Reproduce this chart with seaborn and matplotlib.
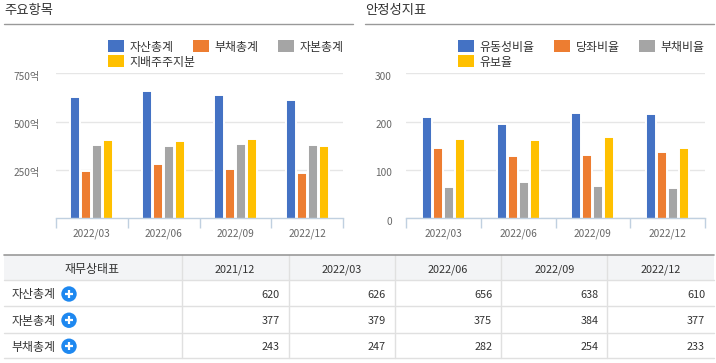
import pandas as pd
import matplotlib
matplotlib.use('Agg')
import matplotlib.pyplot as plt
from matplotlib.patches import Rectangle, Circle
from matplotlib.transforms import ScaledTranslation
import seaborn as sns

# ---- data ----
quarters = ['2022/03', '2022/06', '2022/09', '2022/12']

main_names = ['자산총계', '부채총계', '자본총계', '지배주주지분']
assets = [626, 656, 638, 610]
debts = [247, 282, 254, 233]
equity = [379, 375, 384, 377]
owners = [406, 401, 411, 375]

stab_names = ['유동성비율', '당좌비율', '부채비율', '유보율']
current_ratio = [209, 195, 218, 216]
quick_ratio = [145, 129, 131, 137]
debt_ratio = [65, 75, 67, 63]
reserve_ratio = [164, 162, 168, 145]

colors = ['#4472c4', '#ed7d31', '#a5a5a5', '#ffc000']

main_ticks = [250, 500, 750]
main_ticklabels = ['250억', '500억', '750억']
stab_ticks = [0, 100, 200, 300]
stab_ticklabels = ['0', '100', '200', '300']

table_title = '재무상태표'
table_cols = ['2021/12', '2022/03', '2022/06', '2022/09', '2022/12']
table_rows = ['자산총계', '자본총계', '부채총계']
table_assets = [620, 626, 656, 638, 610]
table_equity = [377, 379, 375, 384, 377]
table_debts = [243, 247, 282, 254, 233]

W, H = 716, 363
TXT = '#333333'

sns.set_theme(style='white')
plt.rcParams['font.family'] = ['Noto Sans CJK KR', 'DejaVu Sans']

fig = plt.figure(figsize=(W / 100, H / 100), dpi=100)


def make_axes(x0, x1, y0, y1):
    # pixel box to figure fraction
    return fig.add_axes([x0 / W, 1 - y1 / H, (x1 - x0) / W, (y1 - y0) / H])


def draw_bars(ax, names, series, ymax, ticks, ticklabels, width, label_pad):
    rows = []
    for name, vals in zip(names, series):
        for q, v in zip(quarters, vals):
            rows.append({'quarter': q, 'item': name, 'value': v})
    df = pd.DataFrame(rows)
    # white border on the bars breaks the gridlines like the original
    sns.barplot(data=df, x='quarter', y='value', hue='item', order=quarters,
                hue_order=names, palette=colors, saturation=1, width=width,
                gap=0.09, legend=False, ax=ax, zorder=3,
                edgecolor='white', linewidth=1.4)
    # push the bottom border below the axis so bars touch the baseline
    drop = ymax / 50
    for p in ax.patches:
        p.set_height(p.get_height() + drop)
        p.set_y(-drop)
    ax.set_xlim(-0.5, len(quarters) - 0.5)
    ax.set_ylim(0, ymax)
    ax.set_xlabel('')
    ax.set_ylabel('')
    ax.set_yticks(ticks)
    ax.set_yticklabels(ticklabels, fontsize=7.3, color='#666666')
    ax.yaxis.grid(True, color='#e6e6e6', lw=1)
    ax.set_axisbelow(True)
    ax.tick_params(axis='x', which='major', length=0, pad=7.5, labelsize=7.3, labelcolor='#666666')
    ax.tick_params(axis='y', length=0, pad=label_pad)
    ax.set_xticks([i - 0.5 for i in range(len(quarters) + 1)], minor=True)
    ax.tick_params(axis='x', which='minor', bottom=True, length=7, width=1, color='#c0d0e0')
    for s in ['top', 'left', 'right']:
        ax.spines[s].set_visible(False)
    ax.spines['bottom'].set_color('#c0d0e0')
    ax.spines['bottom'].set_linewidth(1)
    ax.spines['bottom'].set_zorder(5)
    # labels sit a bit under their gridline
    shift = ScaledTranslation(0, -2.5 / 100, fig.dpi_scale_trans)
    for lab in ax.get_yticklabels():
        lab.set_transform(lab.get_transform() + shift)


ax1 = make_axes(55.7, 343.3, 73.3, 218.3)
draw_bars(ax1, main_names, [assets, debts, equity, owners], 750, main_ticks, main_ticklabels, 0.612, 11.5)

ax2 = make_axes(406.3, 704.7, 73.3, 218.3)
draw_bars(ax2, stab_names, [current_ratio, quick_ratio, debt_ratio, reserve_ratio], 300, stab_ticks, stab_ticklabels, 0.59, 10.3)

# overlay in pixel coordinates for headings, legends and the table
ov = fig.add_axes([0, 0, 1, 1], zorder=5)
ov.set_xlim(0, W)
ov.set_ylim(H, 0)
ov.axis('off')

ov.text(4, 10.3, '주요항목', fontsize=9.6, color=TXT, va='center')
ov.text(365, 10.3, '안정성지표', fontsize=9.6, color=TXT, va='center')
ov.plot([4, 352.7], [23.5, 23.5], color='#999999', lw=1)
ov.plot([365, 714], [23.5, 23.5], color='#999999', lw=1)


def draw_legend(names, xs):
    spots = [(xs[0], 46), (xs[1], 46), (xs[2], 46), (xs[0], 61)]
    for name, col, (x, y) in zip(names, colors, spots):
        ov.add_patch(Rectangle((x, y - 6), 16, 12, color=col, lw=0))
        ov.text(x + 21.5, y + 1.8, name, fontsize=8.6, color=TXT, va='center')


draw_legend(main_names, [108, 193.3, 278.3])
draw_legend(stab_names, [458, 554, 639])

# table
col_x = [181.5, 288.5, 394.7, 501.3, 607.3, 714]
row_y = [280, 306, 332.5, 358]
top = 254.5
ov.add_patch(Rectangle((4, top), 710, row_y[0] - top, color='#f3f4f6', lw=0))
for y in row_y:
    ov.plot([4, 714], [y, y], color='#e0e0e0', lw=1)
for x in col_x[:-1]:
    ov.plot([x, x], [top, row_y[-1]], color='#e0e0e0', lw=1)
ov.plot([4, 714], [top, top], color='#999999', lw=1.2)

ov.text(92.5, 269.3, table_title, fontsize=8.6, color=TXT, ha='center', va='center')
for i, c in enumerate(table_cols):
    ov.text((col_x[i] + col_x[i + 1]) / 2, 269.3, c, fontsize=7.8, color=TXT, ha='center', va='center')

for r, (name, vals) in enumerate(zip(table_rows, [table_assets, table_equity, table_debts])):
    yc = (row_y[r] + row_y[r + 1]) / 2
    ov.text(11.7, yc + 1.8, name, fontsize=8.6, color=TXT, va='center')
    ov.add_patch(Circle((69, yc + 1), 7.7, color='#1e88f0', lw=0))
    ov.plot([65, 73], [yc + 1, yc + 1], color='white', lw=1.6, solid_capstyle='butt')
    ov.plot([69, 69], [yc - 3, yc + 5], color='white', lw=1.6, solid_capstyle='butt')
    for i, v in enumerate(vals):
        ov.text(col_x[i + 1] - 9, yc + 1.8, str(v), fontsize=7.8, color=TXT, ha='right', va='center')

fig.savefig('out.png', dpi=100)
